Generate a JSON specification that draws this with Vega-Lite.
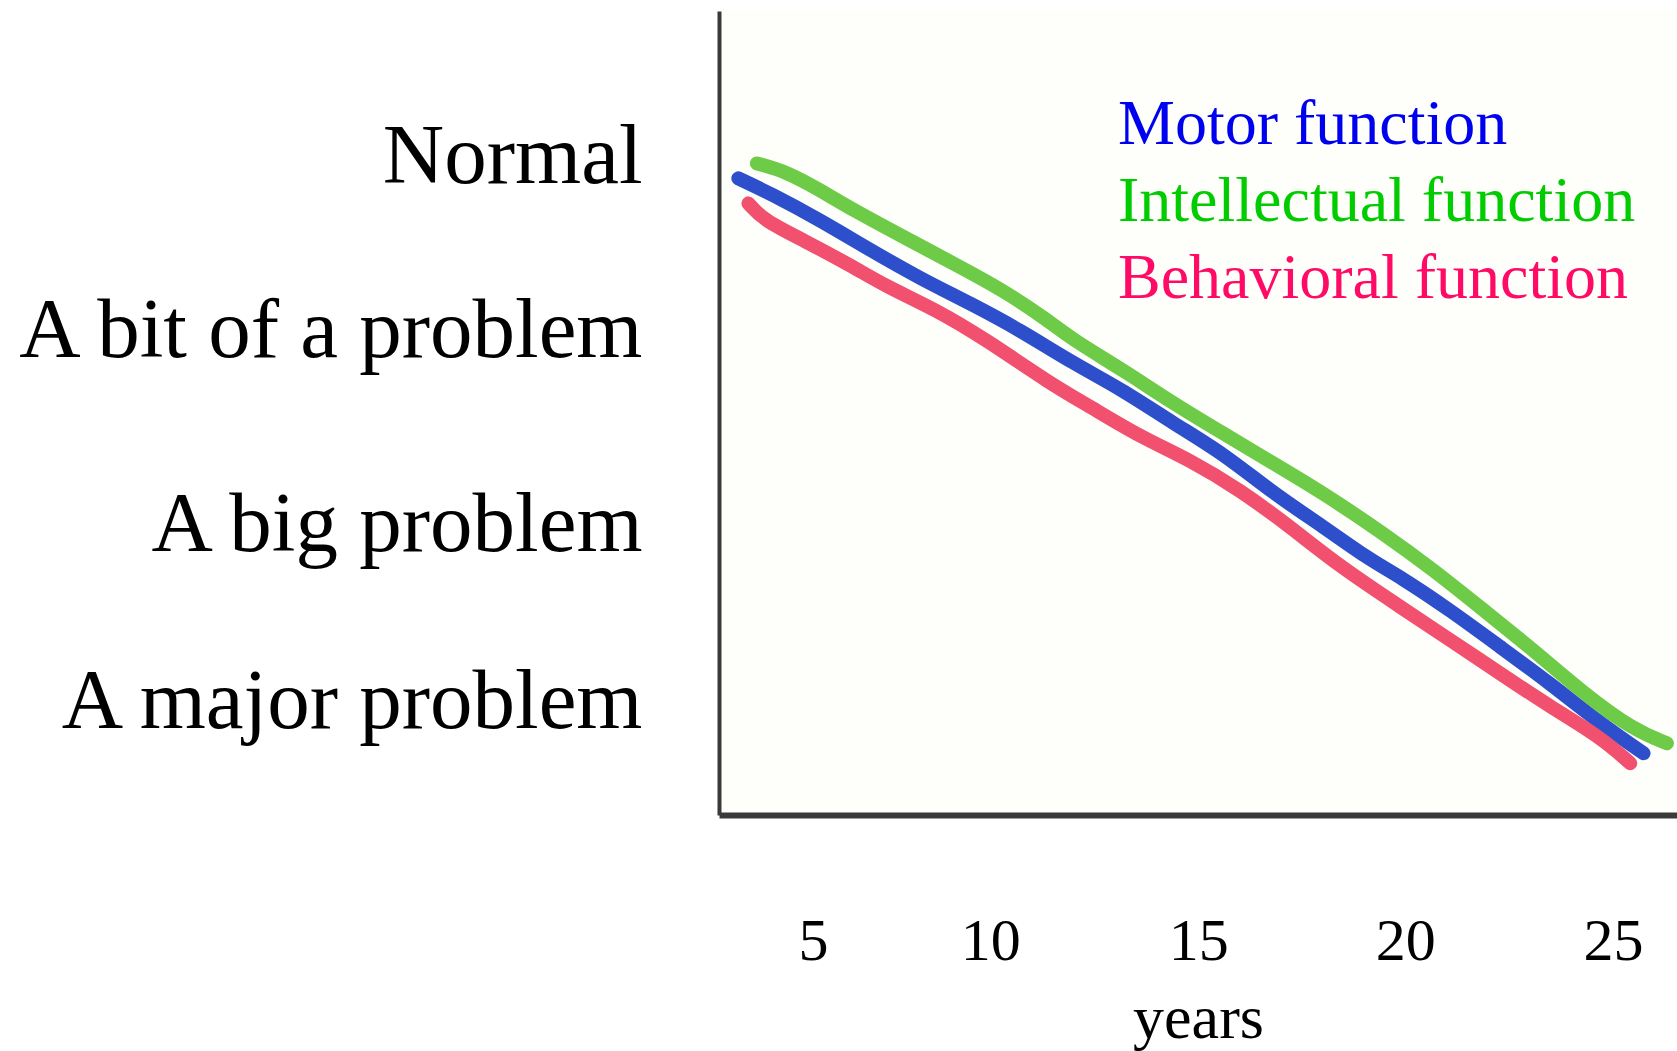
{
  "$schema": "https://vega.github.io/schema/vega-lite/v6.json",
  "autosize": {"type": "none"},
  "padding": {"left": 719, "top": 11, "right": 0, "bottom": 236},
  "width": 958,
  "height": 804,
  "background": "white",
  "view": {"fill": "#fefefa", "stroke": null},
  "data": {
    "values": [
      {"series": "Motor function", "year": 3.45, "level": 3.880},
      {"series": "Motor function", "year": 4.24, "level": 3.797},
      {"series": "Motor function", "year": 5.48, "level": 3.650},
      {"series": "Motor function", "year": 6.72, "level": 3.485},
      {"series": "Motor function", "year": 7.96, "level": 3.329},
      {"series": "Motor function", "year": 9.20, "level": 3.192},
      {"series": "Motor function", "year": 10.44, "level": 3.045},
      {"series": "Motor function", "year": 11.76, "level": 2.861},
      {"series": "Motor function", "year": 13.00, "level": 2.714},
      {"series": "Motor function", "year": 14.24, "level": 2.531},
      {"series": "Motor function", "year": 15.48, "level": 2.366},
      {"series": "Motor function", "year": 16.72, "level": 2.146},
      {"series": "Motor function", "year": 17.97, "level": 1.962},
      {"series": "Motor function", "year": 19.12, "level": 1.779},
      {"series": "Motor function", "year": 19.87, "level": 1.687},
      {"series": "Motor function", "year": 21.11, "level": 1.503},
      {"series": "Motor function", "year": 22.35, "level": 1.301},
      {"series": "Motor function", "year": 23.59, "level": 1.100},
      {"series": "Motor function", "year": 24.83, "level": 0.880},
      {"series": "Motor function", "year": 25.91, "level": 0.715},

      {"series": "Intellectual function", "year": 3.91, "level": 3.962},
      {"series": "Intellectual function", "year": 4.65, "level": 3.916},
      {"series": "Intellectual function", "year": 5.48, "level": 3.815},
      {"series": "Intellectual function", "year": 6.30, "level": 3.705},
      {"series": "Intellectual function", "year": 7.54, "level": 3.558},
      {"series": "Intellectual function", "year": 8.78, "level": 3.412},
      {"series": "Intellectual function", "year": 10.02, "level": 3.265},
      {"series": "Intellectual function", "year": 11.18, "level": 3.090},
      {"series": "Intellectual function", "year": 11.76, "level": 2.990},
      {"series": "Intellectual function", "year": 13.00, "level": 2.824},
      {"series": "Intellectual function", "year": 14.24, "level": 2.641},
      {"series": "Intellectual function", "year": 15.48, "level": 2.476},
      {"series": "Intellectual function", "year": 16.72, "level": 2.311},
      {"series": "Intellectual function", "year": 17.97, "level": 2.146},
      {"series": "Intellectual function", "year": 19.45, "level": 1.926},
      {"series": "Intellectual function", "year": 20.70, "level": 1.724},
      {"series": "Intellectual function", "year": 21.94, "level": 1.503},
      {"series": "Intellectual function", "year": 23.18, "level": 1.283},
      {"series": "Intellectual function", "year": 24.42, "level": 1.045},
      {"series": "Intellectual function", "year": 25.66, "level": 0.843},
      {"series": "Intellectual function", "year": 26.49, "level": 0.770},

      {"series": "Behavioral function", "year": 3.70, "level": 3.742},
      {"series": "Behavioral function", "year": 4.07, "level": 3.650},
      {"series": "Behavioral function", "year": 5.06, "level": 3.540},
      {"series": "Behavioral function", "year": 6.30, "level": 3.393},
      {"series": "Behavioral function", "year": 7.13, "level": 3.283},
      {"series": "Behavioral function", "year": 8.37, "level": 3.155},
      {"series": "Behavioral function", "year": 9.61, "level": 2.990},
      {"series": "Behavioral function", "year": 11.18, "level": 2.751},
      {"series": "Behavioral function", "year": 12.18, "level": 2.623},
      {"series": "Behavioral function", "year": 13.42, "level": 2.457},
      {"series": "Behavioral function", "year": 14.66, "level": 2.329},
      {"series": "Behavioral function", "year": 15.90, "level": 2.164},
      {"series": "Behavioral function", "year": 17.14, "level": 1.962},
      {"series": "Behavioral function", "year": 18.38, "level": 1.742},
      {"series": "Behavioral function", "year": 19.87, "level": 1.522},
      {"series": "Behavioral function", "year": 21.11, "level": 1.338},
      {"series": "Behavioral function", "year": 22.35, "level": 1.155},
      {"series": "Behavioral function", "year": 23.59, "level": 0.971},
      {"series": "Behavioral function", "year": 24.83, "level": 0.806},
      {"series": "Behavioral function", "year": 25.58, "level": 0.660}
    ]
  },
  "mark": {"type": "line", "strokeWidth": 14, "strokeCap": "round", "strokeJoin": "round", "interpolate": "basis"},
  "encoding": {
    "x": {
      "field": "year",
      "type": "quantitative",
      "scale": {"domain": [2.97, 26.74], "nice": false, "zero": false},
      "axis": {
        "title": "years",
        "values": [5.3, 9.7, 14.86, 20, 25.15],
        "labelExpr": "'' + round(datum.value)",
        "grid": false,
        "ticks": false,
        "domainColor": "#3a3a3a",
        "domainWidth": 6,
        "labelFont": "Liberation Serif",
        "labelFontSize": 60,
        "labelColor": "black",
        "labelPadding": 97,
        "labelFlush": false,
        "labelOverlap": false,
        "titleFont": "Liberation Serif",
        "titleFontSize": 62,
        "titleFontWeight": "normal",
        "titleColor": "black",
        "titleBaseline": "alphabetic",
        "titleY": 222
      }
    },
    "y": {
      "field": "level",
      "type": "quantitative",
      "scale": {"domain": [0.375, 4.801], "nice": false, "zero": false},
      "axis": {
        "title": null,
        "values": [1, 1.974, 3.042, 4],
        "labelExpr": "datum.value > 3.5 ? 'Normal\u00a0' : datum.value > 2.5 ? 'A bit of a problem' : datum.value > 1.5 ? 'A big problem' : 'A major problem'",
        "grid": false,
        "ticks": false,
        "domainColor": "#3a3a3a",
        "domainWidth": 4,
        "labelFont": "Liberation Serif",
        "labelFontSize": 85,
        "labelColor": "black",
        "labelPadding": 77,
        "labelLimit": 1000,
        "labelFlush": false,
        "labelOverlap": false
      }
    },
    "color": {
      "field": "series",
      "type": "nominal",
      "scale": {
        "domain": ["Motor function", "Intellectual function", "Behavioral function"],
        "range": ["#2d4fcc", "#6dcb48", "#f2506f"]
      },
      "legend": {
        "title": null,
        "orient": "none",
        "legendX": 335,
        "legendY": 82,
        "padding": 0,
        "symbolSize": 0,
        "symbolOpacity": 0,
        "symbolStrokeWidth": 0,
        "labelOffset": 0,
        "labelFont": "Liberation Serif",
        "labelFontSize": 64,
        "labelLimit": 1000,
        "rowPadding": 13,
        "encode": {
          "labels": {
            "update": {
              "fill": {"signal": "datum.value === 'Motor function' ? '#0000f0' : datum.value === 'Intellectual function' ? '#00cc00' : '#ff0a64'"}
            }
          }
        }
      }
    }
  },
  "config": {"font": "Liberation Serif"}
}
